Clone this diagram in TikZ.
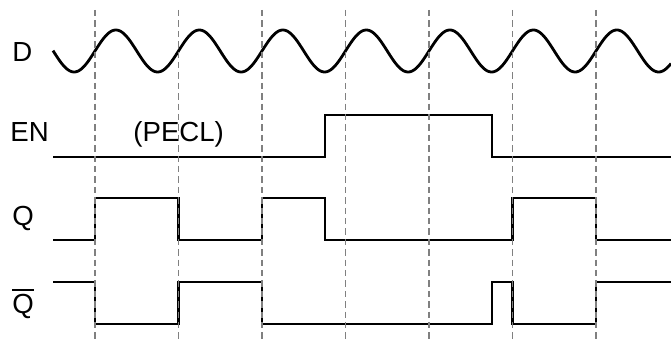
\documentclass[tikz,border=0pt]{standalone}
\usepackage{fontspec}
\setmainfont{Liberation Sans}

\begin{document}
\begin{tikzpicture}[x=0.5pt,y=-0.5pt,line join=miter]
\tikzset{sig/.style={line width=1.4pt},
  tick/.style={gray,line width=0.6pt,dash pattern=on 3.2pt off 2pt},
  lbl/.style={anchor=base west,inner sep=0pt,font=\fontsize{13.8}{16}\selectfont}}
\def\period{83.5}
\useasboundingbox (0,0) rectangle (671,341);
% signal names
\node[lbl] (D) at (12,62) {D};
\node[lbl] (EN) at (10,142) {EN};
\node[lbl] (PECL) at (133,142) {(PECL)};
\node[lbl] (Q) at (12,226) {Q};
\node[lbl] (Qb) at (12,314) {Q};
\draw[line width=1pt] ([yshift=2.2pt]Qb.north west) -- ([yshift=2.2pt]Qb.north east);
% waveforms
\draw[sig,samples=400,domain=53:671] plot (\x, {51-21*sin(360/\period*(\x-95))});
\draw[sig] (53,157) -- (325,157) -- (325,115) -- (492,115) -- (492,157) -- (671,157);
\draw[sig] (53,240) -- (95,240) -- (95,198) -- (178.5,198) -- (178.5,240) -- (262,240)
  -- (262,198) -- (325,198) -- (325,240) -- (512.5,240) -- (512.5,198) -- (596,198)
  -- (596,240) -- (671,240);
\draw[sig] (53,282) -- (95,282) -- (95,324) -- (178.5,324) -- (178.5,282) -- (262,282)
  -- (262,324) -- (492,324) -- (492,282) -- (512.5,282) -- (512.5,324) -- (596,324)
  -- (596,282) -- (671,282);
% clock edges
\foreach \k in {0,...,6}
  \draw[tick] ({95+\k*\period},10) -- ({95+\k*\period},339);
\end{tikzpicture}
\end{document}
